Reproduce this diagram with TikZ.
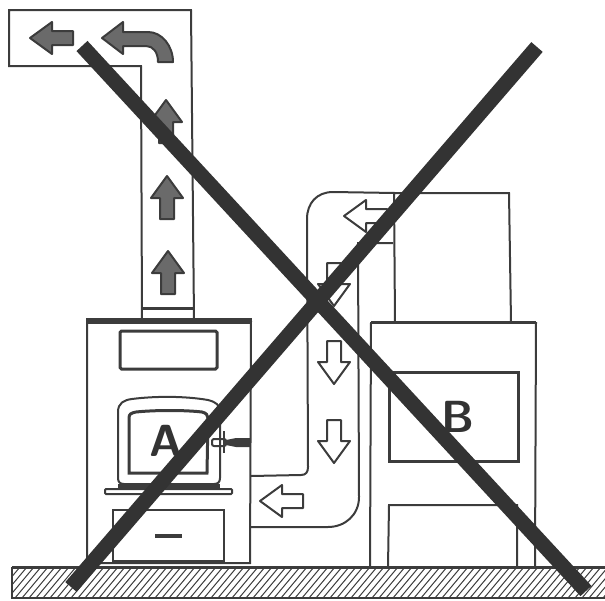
\documentclass[tikz,border=0pt]{standalone}
\usepackage{xcolor}
\definecolor{inkline}{HTML}{3C3C3C}
\definecolor{crossbar}{HTML}{333333}
\definecolor{arrowgrey}{HTML}{6A6A6A}

\tikzset{
    wall/.style={draw=inkline, line width=2pt},
    heavywall/.style={draw=inkline, line width=3pt},
    crossout/.style={draw=crossbar, line width=15pt},
    smokearrow/.style={draw=inkline, fill=arrowgrey, line width=2pt, line join=round},
    airarrow/.style={draw=inkline, fill=white, line width=2pt, line join=round},
    letter/.style={font=\sffamily\bfseries\fontsize{45}{45}\selectfont, text=crossbar, inner sep=0pt}
}

% стрелка: стиль, остриё, поворот
\newcommand{\flowarrow}[3]{
    \draw[#1, shift={(#2)}, rotate=#3]
        (0,0) -- (22,-16) -- (22,-7) -- (43,-7) -- (43,7) -- (22,7) -- (22,16) -- cycle;
}

\begin{document}
\begin{tikzpicture}[x=1pt, y=-1pt]

    \useasboundingbox (0,0) rectangle (605,600);

    % Parameters
    \def\floortop{567}
    \def\floorbot{598}

    % Floor
    \begin{scope}
        \clip (12,\floortop) rectangle (605,\floorbot);
        \foreach \x in {-20,-13,...,610}
            \draw[inkline, line width=1pt] (\x,\floorbot) -- (\x+26,\floortop);
    \end{scope}
    \draw[wall] (605,\floorbot) -- (12,\floorbot) -- (12,\floortop);
    \draw[heavywall] (12,\floortop) -- (605,\floortop);

    % Flue of stove A
    \draw[wall] (142,320) -- (141,66) -- (9,66) -- (9,10) -- (191,10) -- (194,320);
    \draw[heavywall] (142,308) -- (194,308);

    % Stove A
    \draw[wall] (87,321) -- (87,563) -- (250,563) -- (251,321);
    \fill[inkline] (86,318) rectangle (252,324);
    \draw[heavywall, rounded corners=1.5pt] (120,331) rectangle (217,369);
    \draw[wall] (118,412) .. controls (118,403) and (124,400) .. (132,399)
        .. controls (155,396) and (185,396) .. (208,400)
        .. controls (216,402) and (220,405) .. (220,412)
        -- (220,478) .. controls (220,482) and (218,484) .. (214,484)
        -- (124,484) .. controls (120,484) and (118,482) .. (118,478) -- cycle;
    \draw[heavywall] (129,418) .. controls (129,414) and (131,413) .. (136,412)
        .. controls (155,410) and (185,410) .. (202,412)
        .. controls (206,413) and (208,415) .. (208,418)
        -- (207,473) -- (129,473) -- cycle;
    \node[letter] (letterA) at (166,441) {A};

    % Door latch
    \draw[wall, rounded corners=2pt] (212,439) rectangle (226,446);
    \draw[wall] (224,431) -- (224,453);
    \fill[inkline] (226,440) -- (236,438) -- (250,438) -- (250,447) -- (236,447) -- (226,445) -- cycle;

    % Shelf and drawer
    \fill[inkline] (118,484) rectangle (220,489);
    \draw[wall, rounded corners=1pt] (105,489) rectangle (232,494);
    \draw[wall] (113,561) -- (113,510) -- (224,510) -- (224,561) -- cycle;
    \fill[inkline] (155,534) rectangle (182,538);

    % Duct between B and A
    \draw[wall] (395,193) -- (333,192) .. controls (317,192) and (307,203) .. (307,219)
        -- (308,467) .. controls (308,472) and (306,475) .. (301,475) -- (251,476);
    \draw[wall] (393,243) -- (358,243) -- (359,497)
        .. controls (359,515) and (345,527) .. (328,527) -- (251,527);

    % Heater B
    \draw[wall] (395,322) -- (394,193) -- (509,193) -- (511,322);
    \draw[heavywall] (371,322) -- (536,322);
    \draw[wall] (371,322) -- (370,567);
    \draw[wall] (536,322) -- (535,567);
    \draw[heavywall] (389,372) rectangle (518,461);
    \draw[wall] (388,567) -- (389,505) -- (517,505) -- (517,567);
    \node[letter] (letterB) at (458,417) {B};

    % Smoke arrows
    \flowarrow{smokearrow}{30,38}{0}
    \flowarrow{smokearrow}{166,100}{-90}
    \flowarrow{smokearrow}{167,176}{-90}
    \flowarrow{smokearrow}{168,251}{-90}
    \draw[smokearrow] (102,38) -- (123,22) -- (123,32) -- (148,32)
        .. controls (162,32) and (173,46) .. (173,62) -- (158,62)
        .. controls (158,52) and (153,46) .. (146,46)
        -- (123,46) -- (123,54) -- cycle;

    % Air arrows
    \flowarrow{airarrow}{344,216}{0}
    \flowarrow{airarrow}{334,306}{90}
    \flowarrow{airarrow}{334,384}{90}
    \flowarrow{airarrow}{334,463}{90}
    \flowarrow{airarrow}{260,501}{0}

    % Cross
    \draw[crossout] (82,46) -- (586,591);
    \draw[crossout] (71,587) -- (537,47);

\end{tikzpicture}
\end{document}
